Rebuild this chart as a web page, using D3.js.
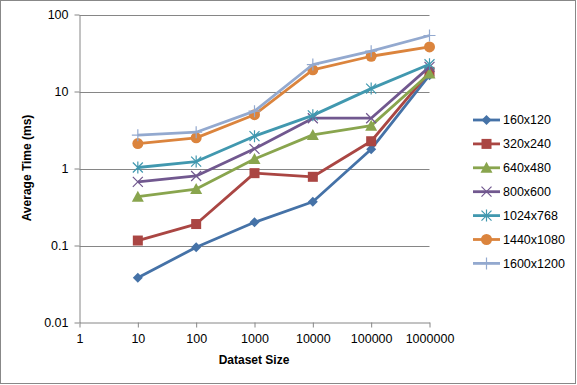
<!DOCTYPE html>
<html><head><meta charset="utf-8">
<script src="https://cdn.jsdelivr.net/npm/d3@7/dist/d3.min.js"></script>
<style>body{margin:0;background:#fff}svg{display:block}</style>
</head><body><svg id="c" width="577" height="385"></svg>
<script>
const datasetSizes = [10, 100, 1000, 10000, 100000, 1000000];
const seriesNames = ["160x120","320x240","640x480","800x600","1024x768","1440x1080","1600x1200"];
const s160x120   = [0.038, 0.095, 0.20, 0.37, 1.78, 16.3];
const s320x240   = [0.116, 0.19, 0.87, 0.78, 2.26, 18.0];
const s640x480   = [0.43, 0.54, 1.33, 2.73, 3.6, 17.1];
const s800x600   = [0.67, 0.80, 1.8, 4.5, 4.5, 20.9];
const s1024x768  = [1.03, 1.23, 2.63, 4.9, 10.9, 22.6];
const s1440x1080 = [2.11, 2.5, 5.0, 19.1, 28.7, 37.9];
const s1600x1200 = [2.71, 2.96, 5.55, 22.4, 33.4, 53.4];
const seriesValues = [s160x120, s320x240, s640x480, s800x600, s1024x768, s1440x1080, s1600x1200];
const xTicks = [1, 10, 100, 1000, 10000, 100000, 1000000];
const yTicks = [0.01, 0.1, 1, 10, 100];
const colors = ["#4572A7","#AA4643","#89A54E","#71588F","#4198AF","#DB843D","#93A9CF"];
const markers = ["diamond","square","triangle","x","star","circle","plus"];

const svg = d3.select("#c");
const font = "Liberation Sans, Arial, sans-serif";
svg.append("rect").attr("x",0.5).attr("y",0.5).attr("width",575).attr("height",383)
  .attr("fill","#fff").attr("stroke","#888");

const x = d3.scaleLog().domain([1,1000000]).range([79.5,429.5]);
const y = d3.scaleLog().domain([0.01,100]).range([322.5,14.5]);

// gridlines
svg.append("g").selectAll("line").data(yTicks.slice(1)).join("line")
  .attr("x1",79.5).attr("x2",429.5).attr("y1",d=>Math.round(y(d))+0.5).attr("y2",d=>Math.round(y(d))+0.5)
  .attr("stroke","#868686").attr("stroke-width",1);

const xAxis = svg.append("g").attr("transform","translate(0,322.5)")
  .call(d3.axisBottom(x).tickValues(xTicks).tickFormat(d3.format("d")).tickSize(5).tickSizeOuter(0));
const yAxis = svg.append("g").attr("transform","translate(79.5,0)")
  .call(d3.axisLeft(y).tickValues(yTicks).tickFormat(d=>String(d)).tickSize(5).tickSizeOuter(0));
[xAxis,yAxis].forEach(a=>{
  a.select(".domain").attr("stroke","#868686");
  a.selectAll(".tick line").attr("stroke","#868686");
  a.selectAll(".tick text").attr("font-family",font).attr("font-size",12.5).attr("fill","#000");
});
xAxis.selectAll(".tick text").attr("dy","0.71em").attr("y",12);
yAxis.selectAll(".tick text").attr("x",-11);

svg.append("text").attr("x",254).attr("y",364).attr("text-anchor","middle")
  .attr("font-family",font).attr("font-size",12).attr("font-weight","bold").text("Dataset Size");
svg.append("text").attr("transform","translate(31,168) rotate(-90)").attr("text-anchor","middle")
  .attr("font-family",font).attr("font-size",12).attr("font-weight","bold").text("Average Time (ms)");

function drawMarker(g, type, color, cx, cy) {
  const m = g.append("g").attr("transform",`translate(${cx},${cy})`);
  if (type==="diamond") m.append("path").attr("d","M0,-5L5,0L0,5L-5,0Z").attr("fill",color);
  else if (type==="square") m.append("rect").attr("x",-5).attr("y",-5).attr("width",10).attr("height",10).attr("fill",color);
  else if (type==="triangle") m.append("path").attr("d","M0,-6L6,5L-6,5Z").attr("fill",color);
  else if (type==="circle") m.append("circle").attr("r",5.5).attr("fill",color);
  else if (type==="x") m.append("path").attr("d","M-5,-5L5,5M-5,5L5,-5").attr("stroke",color).attr("stroke-width",1.2);
  else if (type==="star") m.append("path").attr("d","M-5,-5L5,5M-5,5L5,-5M0,-6L0,6").attr("stroke",color).attr("stroke-width",1.2);
  else if (type==="plus") m.append("path").attr("d","M-6,0L6,0M0,-6L0,6").attr("stroke",color).attr("stroke-width",1.2);
}

const line = d3.line().x(d=>x(d[0])).y(d=>y(d[1]));
seriesValues.forEach((vals,i)=>{
  const pts = datasetSizes.map((s,j)=>[s,vals[j]]);
  const g = svg.append("g");
  g.append("path").datum(pts).attr("d",line).attr("fill","none")
    .attr("stroke",colors[i]).attr("stroke-width",2.8).attr("stroke-linejoin","round");
  pts.forEach(p=>drawMarker(g, markers[i], colors[i], x(p[0]), y(p[1])));
});

// legend
const lg = svg.append("g");
seriesNames.forEach((n,i)=>{
  const ly = 120 + i*23.9;
  const g = lg.append("g");
  g.append("line").attr("x1",473).attr("x2",500).attr("y1",ly).attr("y2",ly)
    .attr("stroke",colors[i]).attr("stroke-width",2.8);
  drawMarker(g, markers[i], colors[i], 486.5, ly);
  g.append("text").attr("x",503).attr("y",ly).attr("dy","0.35em")
    .attr("font-family",font).attr("font-size",12.5).attr("fill","#000").text(n);
});
</script></body></html>
